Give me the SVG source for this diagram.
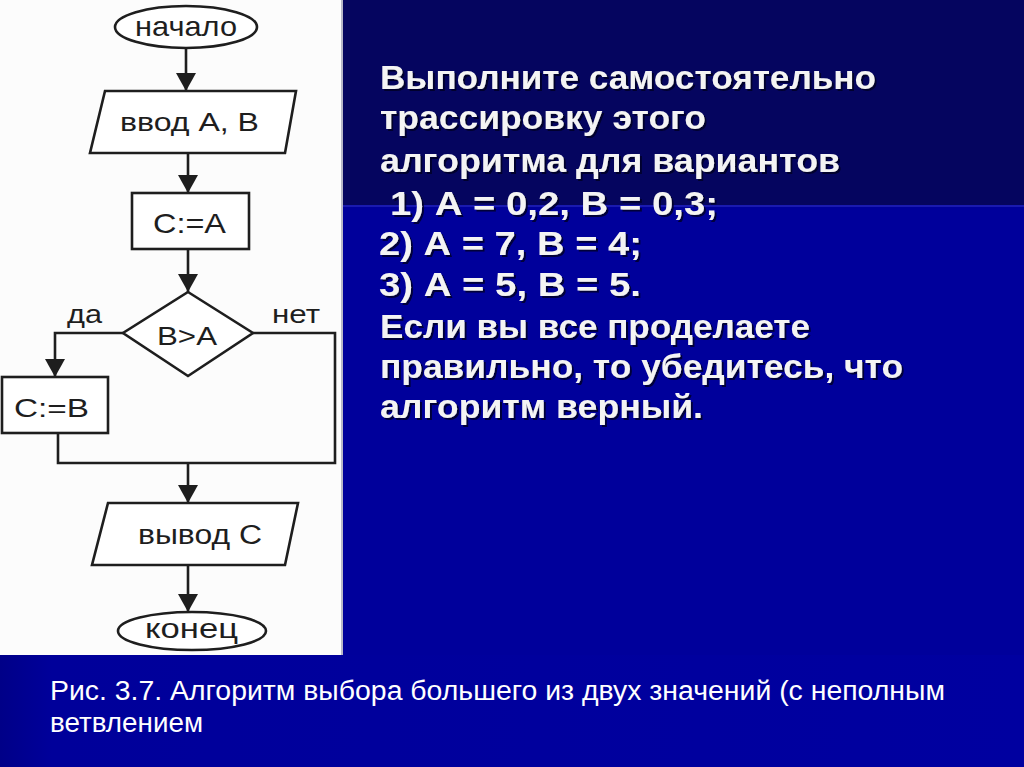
<svg xmlns="http://www.w3.org/2000/svg" width="1024" height="767" viewBox="0 0 1024 767">
  <defs>
    <linearGradient id="bandGrad" x1="0" y1="0" x2="1" y2="0">
      <stop offset="0" stop-color="#000088"/>
      <stop offset="0.05" stop-color="#00009a"/>
      <stop offset="1" stop-color="#0000a0"/>
    </linearGradient>
    <filter id="shadow" x="-5%" y="-20%" width="110%" height="150%">
      <feDropShadow dx="2" dy="2" stdDeviation="0.6" flood-color="#000022" flood-opacity="0.8"/>
    </filter>
    <marker id="arrow" markerUnits="userSpaceOnUse" markerWidth="20" markerHeight="20" refX="18" refY="10" orient="auto">
      <path d="M0,0 L18,10 L0,20 z" fill="#1e1e1e"/>
    </marker>
    <style>
      .fill { fill: #ffffff; stroke: #1e1e1e; stroke-width: 2.6; }
      .conn { fill: none; stroke: #1e1e1e; stroke-width: 2.6; }
      .fc { font-family: "Liberation Sans", Arial, sans-serif; fill: #1e1e1e; text-anchor: start; }
      .main { font-family: "Liberation Sans", Arial, sans-serif; font-weight: bold; font-size: 33px; fill: #f4f4f4; filter: url(#shadow); }
      .cap { font-family: "Liberation Sans", Arial, sans-serif; font-size: 27px; fill: #ffffff; }
    </style>
  </defs>

  <!-- backgrounds -->
  <rect x="0" y="0" width="1024" height="767" fill="#00009b"/>
  <rect x="343" y="0" width="681" height="205" fill="#05055f"/>
  <rect x="343" y="205" width="681" height="2" fill="#1a1ab0"/>
  <rect x="0" y="655" width="1024" height="112" fill="url(#bandGrad)"/>
  <rect x="0" y="0" width="343" height="655" fill="#fcfcfc"/>
  <rect x="341" y="0" width="2" height="655" fill="#b8b8c8"/>

  <!-- connectors -->
  <g id="connectors">
    <path class="conn" d="M186,48 V91" marker-end="url(#arrow)"/>
    <path class="conn" d="M188,153 V193" marker-end="url(#arrow)"/>
    <path class="conn" d="M188,249 V292" marker-end="url(#arrow)"/>
    <path class="conn" d="M123,333 H55 V377" marker-end="url(#arrow)"/>
    <path class="conn" d="M253,333 H335 V463 H58 V433"/>
    <path class="conn" d="M188,463 V503" marker-end="url(#arrow)"/>
    <path class="conn" d="M188,565 V612" marker-end="url(#arrow)"/>
  </g>

  <g id="start">
    <ellipse class="fill" cx="186" cy="27" rx="71" ry="21"/>
    <text class="fc" x="135" y="36" font-size="28" textLength="102" lengthAdjust="spacingAndGlyphs">начало</text>
  </g>

  <g id="input">
    <polygon class="fill" points="105,91 296,91 285,153 90,153"/>
    <text class="fc" x="120" y="131" font-size="26" textLength="139" lengthAdjust="spacingAndGlyphs">ввод А, В</text>
  </g>

  <g id="assignA">
    <rect class="fill" x="132" y="193" width="117" height="56"/>
    <text class="fc" x="153" y="233" font-size="28" textLength="73" lengthAdjust="spacingAndGlyphs">С:=А</text>
  </g>

  <g id="decision">
    <polygon class="fill" points="188,292 253,333 188,376 123,333"/>
    <text class="fc" x="157" y="345" font-size="25" textLength="60" lengthAdjust="spacingAndGlyphs">В&gt;А</text>
  </g>

  <g id="labelYes">
    <text class="fc" x="67" y="323" font-size="26" textLength="35" lengthAdjust="spacingAndGlyphs">да</text>
  </g>
  <g id="labelNo">
    <text class="fc" x="272" y="323" font-size="26" textLength="48" lengthAdjust="spacingAndGlyphs">нет</text>
  </g>

  <g id="assignB">
    <rect class="fill" x="2" y="377" width="106" height="56"/>
    <text class="fc" x="14" y="417" font-size="26" textLength="75" lengthAdjust="spacingAndGlyphs">С:=В</text>
  </g>

  <g id="output">
    <polygon class="fill" points="108,503 298,503 285,565 92,565"/>
    <text class="fc" x="138" y="544" font-size="27" textLength="124" lengthAdjust="spacingAndGlyphs">вывод С</text>
  </g>

  <g id="end">
    <ellipse class="fill" cx="192" cy="631" rx="74" ry="19"/>
    <text class="fc" x="145" y="638" font-size="28" textLength="93" lengthAdjust="spacingAndGlyphs">конец</text>
  </g>

  <!-- task text -->
  <g id="task">
    <text class="main" x="380" y="89" textLength="496" lengthAdjust="spacingAndGlyphs">Выполните самостоятельно</text>
    <text class="main" x="380" y="129" textLength="326" lengthAdjust="spacingAndGlyphs">трассировку этого</text>
    <text class="main" x="380" y="172" textLength="460" lengthAdjust="spacingAndGlyphs">алгоритма для вариантов</text>
    <text class="main" x="390" y="215" textLength="328" lengthAdjust="spacingAndGlyphs">1) А = 0,2, В = 0,3;</text>
    <text class="main" x="379" y="255" textLength="263" lengthAdjust="spacingAndGlyphs">2) А = 7, В = 4;</text>
    <text class="main" x="379" y="296" textLength="262" lengthAdjust="spacingAndGlyphs">3) А = 5, В = 5.</text>
    <text class="main" x="380" y="338" textLength="430" lengthAdjust="spacingAndGlyphs">Если вы все проделаете</text>
    <text class="main" x="380" y="378" textLength="523" lengthAdjust="spacingAndGlyphs">правильно, то убедитесь, что</text>
    <text class="main" x="380" y="418" textLength="323" lengthAdjust="spacingAndGlyphs">алгоритм верный.</text>
  </g>

  <!-- caption -->
  <g id="caption">
    <text class="cap" x="50" y="700" textLength="895" lengthAdjust="spacingAndGlyphs">Рис. 3.7. Алгоритм выбора большего из двух значений (с неполным</text>
    <text class="cap" x="50" y="732" textLength="153" lengthAdjust="spacingAndGlyphs">ветвлением</text>
  </g>
</svg>
